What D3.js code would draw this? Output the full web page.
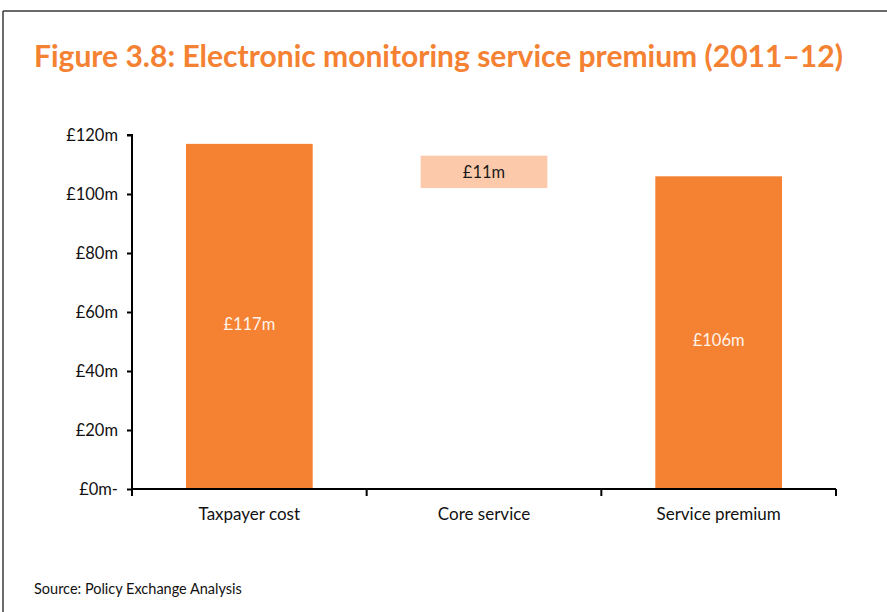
<!DOCTYPE html>
<html>
<head>
<meta charset="utf-8">
<script src="https://cdn.jsdelivr.net/npm/d3@7"></script>
<style>
  html, body { margin: 0; padding: 0; background: #fff; }
  svg { display: block; }
  text { font-family: Lato, "Open Sans", sans-serif; }
</style>
</head>
<body>
<svg id="chart" width="887" height="612"></svg>
<script>
// Waterfall: total cost, core-service step, remaining premium
const categories = ["Taxpayer cost", "Core service", "Service premium"];
const barBase    = [0, 102, 0];      // where each bar starts (£m)
const barValue   = [117, 11, 106];   // bar height (£m)
const barLabels  = ["£117m", "£11m", "£106m"];
const barKind    = ["total", "step", "total"];
const yTicks     = [0, 20, 40, 60, 80, 100, 120];
const yTickLabels = ["£0m-", "£20m", "£40m", "£60m", "£80m", "£100m", "£120m"];

const titleText  = "Figure 3.8: Electronic monitoring service premium (2011–12)";
const sourceText = "Source: Policy Exchange Analysis";

const ORANGE = "#F58132";
const PEACH  = "#FCCAAA";

const svg = d3.select("#chart");

// frame lines (top and left)
svg.append("line").attr("x1", 3).attr("x2", 887).attr("y1", 11).attr("y2", 11)
  .attr("stroke", "#3a3a3a").attr("stroke-width", 1.5);
svg.append("line").attr("x1", 3).attr("x2", 3).attr("y1", 11).attr("y2", 612)
  .attr("stroke", "#3a3a3a").attr("stroke-width", 1.5);

// title, fitted to its width
const title = svg.append("text")
  .attr("x", 34).attr("y", 67)
  .attr("fill", ORANGE).attr("font-weight", 700)
  .attr("font-size", 28).text(titleText);
const tw = title.node().getComputedTextLength();
title.attr("font-size", 28 * 809 / tw);

const x = d3.scaleBand().domain(categories).range([132, 836]).paddingInner(0.46).paddingOuter(0.23);
const xAxisScale = d3.scaleLinear().domain([0, categories.length]).range([132, 836]);
const y = d3.scaleLinear().domain([0, 120]).range([489, 135]);

// bars
svg.append("g").selectAll("rect")
  .data(categories)
  .join("rect")
  .attr("x", d => x(d))
  .attr("width", x.bandwidth())
  .attr("y", (d, i) => y(barBase[i] + barValue[i]))
  .attr("height", (d, i) => y(barBase[i]) - y(barBase[i] + barValue[i]))
  .attr("fill", (d, i) => barKind[i] === "total" ? ORANGE : PEACH);

// value labels
svg.append("g").selectAll("text")
  .data(categories)
  .join("text")
  .attr("x", d => x(d) + x.bandwidth() / 2)
  .attr("y", (d, i) => {
    const mid = (y(barBase[i]) + y(barBase[i] + barValue[i])) / 2;
    return barKind[i] === "total" ? mid + 9 : mid + 2;
  })
  .attr("text-anchor", "middle")
  .attr("dominant-baseline", "middle")
  .attr("font-size", 16.5)
  .attr("fill", (d, i) => barKind[i] === "total" ? "#FFF3EA" : "#1a1a1a")
  .text((d, i) => barLabels[i]);

// y axis
const yAxis = d3.axisLeft(y).tickValues(yTicks).tickSize(5).tickPadding(9)
  .tickFormat((d, i) => yTickLabels[i]);
const gy = svg.append("g").attr("transform", "translate(132,0)").call(yAxis);
gy.select(".domain").attr("stroke", "#000").attr("stroke-width", 2)
  .attr("d", "M-5," + y(120) + "H0V" + (y(0) + 7));
gy.selectAll(".tick line").attr("stroke", "#000").attr("stroke-width", 2);
gy.selectAll(".tick text").attr("font-size", 16.5).attr("fill", "#111")
  .style("font-family", "Lato, 'Open Sans', sans-serif");

// x axis with boundary ticks
const gx = svg.append("g").attr("transform", "translate(0," + y(0) + ")");
gx.append("line").attr("x1", 132).attr("x2", 836).attr("y1", 0).attr("y2", 0)
  .attr("stroke", "#000").attr("stroke-width", 2);
gx.selectAll("line.tk")
  .data(d3.range(1, categories.length + 1))
  .join("line").attr("class", "tk")
  .attr("x1", d => xAxisScale(d)).attr("x2", d => xAxisScale(d))
  .attr("y1", 0).attr("y2", 7)
  .attr("stroke", "#000").attr("stroke-width", 2);
gx.selectAll("text")
  .data(categories)
  .join("text")
  .attr("x", d => x(d) + x.bandwidth() / 2)
  .attr("y", 26.5)
  .attr("text-anchor", "middle")
  .attr("dominant-baseline", "middle")
  .attr("font-size", 17)
  .attr("fill", "#111")
  .text(d => d);

// source note
svg.append("text").attr("x", 34).attr("y", 594)
  .attr("font-size", 14.5).attr("fill", "#111").text(sourceText);
</script>
</body>
</html>
